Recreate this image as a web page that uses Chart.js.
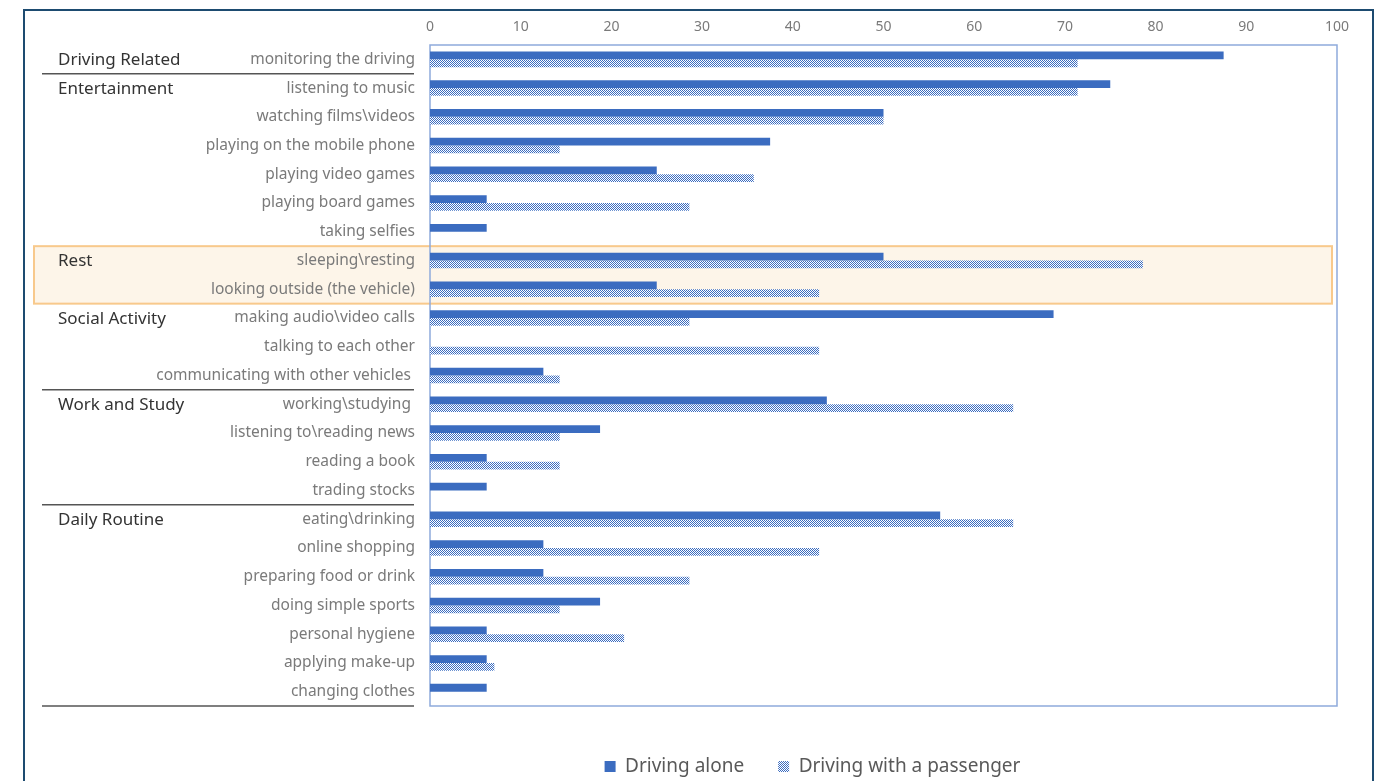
<!DOCTYPE html>
<html>
<head>
<meta charset="utf-8">
<script src="https://cdn.jsdelivr.net/npm/chart.js@4.4.0/dist/chart.umd.min.js"></script>
<style>
  html, body { margin: 0; padding: 0; background: #fff; overflow: hidden; }
  #wrap { position: relative; width: 1386px; height: 781px; }
  #frame { position: absolute; left: 23px; top: 9px; width: 1347px; height: 900px;
           border: 2.5px solid #1d4b70; pointer-events: none; z-index: 2; }
  canvas { position: absolute; left: 0; top: 0; }
</style>
</head>
<body>
<div id="wrap">
  <canvas id="chart" width="1386" height="781"></canvas>
  <div id="frame"></div>
</div>
<script>
// activities, top to bottom
const categories = [
    'monitoring the driving',
    'listening to music',
    'watching films\\videos',
    'playing on the mobile phone',
    'playing video games',
    'playing board games',
    'taking selfies',
    'sleeping\\resting',
    'looking outside (the vehicle)',
    'making audio\\video calls',
    'talking to each other',
    'communicating with other vehicles ',
    'working\\studying ',
    'listening to\\reading news',
    'reading a book',
    'trading stocks',
    'eating\\drinking',
    'online shopping',
    'preparing food or drink',
    'doing simple sports',
    'personal hygiene',
    'applying make-up',
    'changing clothes'
];
const drivingAlone = [87.5, 75, 50, 37.5, 25, 6.25, 6.25, 50, 25, 68.75, 0, 12.5,
    43.75, 18.75, 6.25, 6.25, 56.25, 12.5, 12.5, 18.75, 6.25, 6.25, 6.25];
const withPassenger = [71.4, 71.4, 50, 14.3, 35.7, 28.6, 0, 78.6, 42.9, 28.6, 42.9, 14.3,
    64.3, 14.3, 14.3, 0, 64.3, 42.9, 28.6, 14.3, 21.4, 7.1, 0];

// groups: name + index of first activity
const groupNames = ['Driving Related', 'Entertainment', 'Rest', 'Social Activity', 'Work and Study', 'Daily Routine'];
const groupStart = [0, 1, 7, 9, 12, 16];
const lineAfter = [0, 11, 15, 22];   // separator under these rows
const restRows = [7, 8];             // highlighted group
const xTicks = [0, 10, 20, 30, 40, 50, 60, 70, 80, 90, 100];

const BLUE = '#3b6cc0';
const FONT = "'Noto Sans', 'Open Sans', sans-serif";

// checkered fill for the passenger series
function makePattern() {
    const c = document.createElement('canvas');
    c.width = 2; c.height = 2;
    const g = c.getContext('2d');
    g.fillStyle = '#ffffff';
    g.fillRect(0, 0, 2, 2);
    g.fillStyle = BLUE;
    g.fillRect(0, 0, 1, 1);
    g.fillRect(1, 1, 1, 1);
    return g.createPattern(c, 'repeat');
}

const decor = {
    id: 'decor',
    afterLayout(chart) {
        // legend sits a bit right of the page centre
        chart.legend.left += 132;
        chart.legend.right += 132;
    },
    beforeDraw(chart) {
        const ctx = chart.ctx;
        const area = chart.chartArea;
        const y = chart.scales.y;
        const row = y.getPixelForValue(1) - y.getPixelForValue(0);
        // Rest highlight box
        const top = y.getPixelForValue(restRows[0]) - row / 2;
        const bot = y.getPixelForValue(restRows[restRows.length - 1]) + row / 2;
        const bx = area.left - 396;
        ctx.save();
        ctx.fillStyle = '#fdf5e9';
        ctx.fillRect(bx, top, area.right - 5 - bx, bot - top);
        ctx.strokeStyle = '#f8c98c';
        ctx.lineWidth = 2;
        ctx.strokeRect(bx, top, area.right - 5 - bx, bot - top);
        // plot area outline
        ctx.strokeStyle = '#8eaadb';
        ctx.lineWidth = 1.5;
        ctx.strokeRect(area.left, area.top, area.right - area.left, area.bottom - area.top);
        ctx.restore();
    },
    afterDraw(chart) {
        const ctx = chart.ctx;
        const area = chart.chartArea;
        const y = chart.scales.y;
        const row = y.getPixelForValue(1) - y.getPixelForValue(0);
        ctx.save();
        ctx.fillStyle = '#333333';
        ctx.font = '17px ' + FONT;
        ctx.textBaseline = 'middle';
        ctx.textAlign = 'left';
        groupNames.forEach((name, i) => {
            ctx.fillText(name, area.left - 372, y.getPixelForValue(groupStart[i]) + 1);
        });
        ctx.strokeStyle = '#555555';
        ctx.lineWidth = 1.5;
        lineAfter.forEach(idx => {
            const ly = y.getPixelForValue(idx) + row / 2;
            ctx.beginPath();
            ctx.moveTo(area.left - 388, ly);
            ctx.lineTo(area.left - 16, ly);
            ctx.stroke();
        });
        ctx.restore();
    }
};

const ctx = document.getElementById('chart').getContext('2d');
window.activityChart = new Chart(ctx, {
    type: 'bar',
    data: {
        labels: categories,
        datasets: [{
            label: 'Driving alone',
            data: drivingAlone,
            backgroundColor: BLUE,
            borderWidth: 0,
            categoryPercentage: 0.54,
            barPercentage: 1.0,
        }, {
            label: 'Driving with a passenger',
            data: withPassenger,
            backgroundColor: makePattern(),
            borderWidth: 0,
            categoryPercentage: 0.54,
            barPercentage: 1.0,
        }],
    },
    options: {
        indexAxis: 'y',
        responsive: false,
        animation: false,
        layout: { padding: { left: 24, right: 49, top: 18, bottom: 2 } },
        scales: {
            x: {
                position: 'top',
                min: 0,
                max: 100,
                afterBuildTicks: s => { s.ticks = xTicks.map(v => ({ value: v })); },
                grid: { display: false, drawTicks: false },
                border: { display: false },
                ticks: { color: '#7a7a7a', padding: 10, font: { size: 14, family: FONT } },
                afterFit: s => { s.height = 27; },
            },
            x2: {
                position: 'bottom',
                display: true,
                grid: { display: false, drawTicks: false },
                border: { display: false },
                ticks: { display: false },
                afterFit: s => { s.height = 17; },
            },
            y: {
                grid: { display: false, drawTicks: false },
                border: { display: false },
                ticks: { color: '#7a7a7a', padding: 15, autoSkip: false, font: { size: 15.5, family: FONT } },
                afterFit: s => { s.width = 406; },
            },
        },
        plugins: {
            legend: {
                position: 'bottom',
                maxHeight: 56,
                labels: {
                    boxWidth: 11,
                    boxHeight: 11,
                    padding: 34,
                    color: '#595959',
                    font: { size: 19, family: FONT },
                },
            },
            tooltip: { enabled: false },
        },
    },
    plugins: [decor],
});
</script>
</body>
</html>
